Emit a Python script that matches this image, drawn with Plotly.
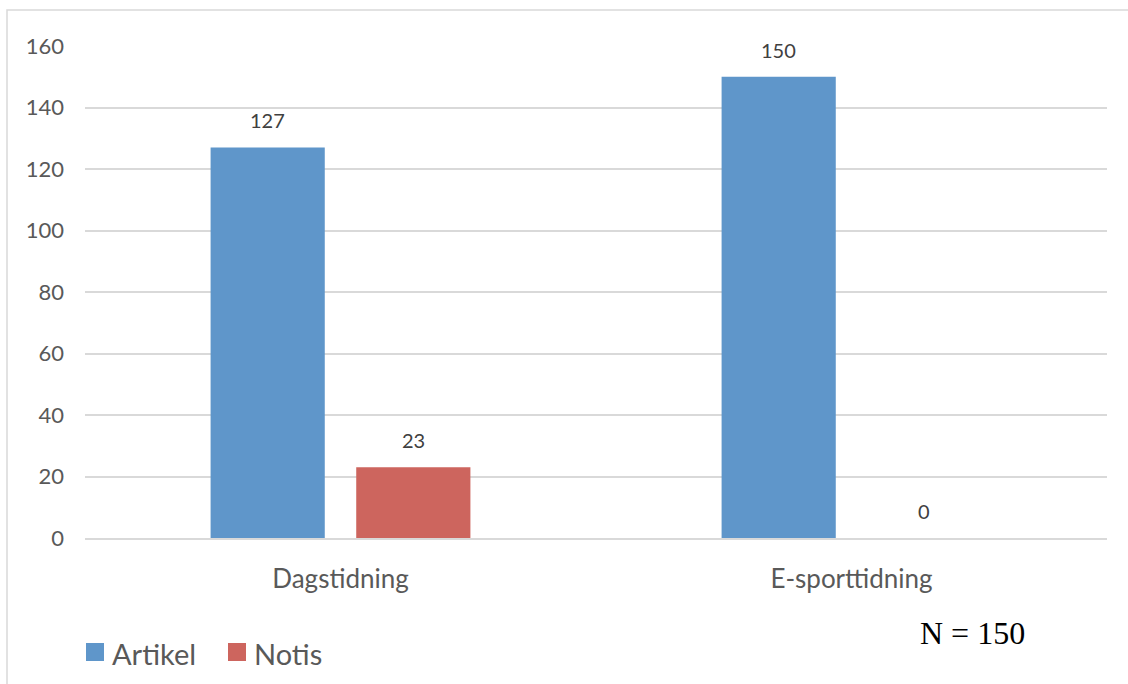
import plotly.graph_objects as go

categories = ["Dagstidning", "E-sporttidning"]
artikel = [127, 150]
notis = [23, 0]
series_names = ["Artikel", "Notis"]
y_ticks = [0, 20, 40, 60, 80, 100, 120, 140, 160]

W, H = 1128, 684
ML, MR, MT, MB = 85, 21, 46, 146
BARGAP = 0.43
GROUPGAP = 0.216

colors = ["#5F96CA", "#CD655E"]
font_family = "Lato, 'Open Sans', sans-serif"
plot_w = W - ML - MR
plot_h = H - MT - MB


def px_x(px):
    return (px - ML) / plot_w


def px_y(py):
    return (H - MB - py) / plot_h


fig = go.Figure()
for name, vals, col in zip(series_names, [artikel, notis], colors):
    fig.add_trace(go.Bar(
        x=categories, y=vals, name=name, showlegend=False,
        marker=dict(color=col, line=dict(width=0)),
    ))

# value labels above each bar, offset to the bar's slot within its group
cat_w = plot_w / len(categories)
slot_w = cat_w * (1 - BARGAP) / 2
for i, vals in enumerate([artikel, notis]):
    shift = (i - 0.5) * slot_w
    for c, v in zip(categories, vals):
        fig.add_annotation(
            x=c, y=v, xref="x", yref="y", text=str(v),
            showarrow=False, xshift=shift, yshift=27,
            font=dict(family=font_family, size=20, color="#404040"),
        )

# legend: square key + series name
legend_x = [86, 228]
for name, col, lx in zip(series_names, colors, legend_x):
    fig.add_shape(
        type="rect", xref="paper", yref="paper",
        x0=px_x(lx), x1=px_x(lx + 18), y0=px_y(661), y1=px_y(643),
        line=dict(width=0), fillcolor=col,
    )
    fig.add_annotation(
        text=name, xref="paper", yref="paper",
        x=px_x(lx + 24), y=px_y(653), xanchor="left", yanchor="middle",
        showarrow=False, font=dict(family=font_family, size=29, color="#595959"),
    )

fig.add_annotation(
    text="N = 150", xref="paper", yref="paper",
    x=px_x(972), y=px_y(633),
    xanchor="center", yanchor="middle", showarrow=False,
    font=dict(family="'Liberation Serif', 'Times New Roman', serif", size=32, color="#000000"),
)

# chart area frame
fig.add_shape(
    type="rect", xref="paper", yref="paper",
    x0=px_x(7), x1=px_x(W + 20), y0=px_y(H + 20), y1=px_y(10),
    line=dict(color="#D9D9D9", width=1.5), fillcolor="rgba(0,0,0,0)", layer="below",
)

fig.update_layout(
    width=W, height=H,
    margin=dict(l=ML, r=MR, t=MT, b=MB, autoexpand=False),
    paper_bgcolor="white", plot_bgcolor="white",
    barmode="group", bargap=BARGAP, bargroupgap=GROUPGAP,
    font=dict(family=font_family, color="#595959"),
    showlegend=False,
)
fig.update_xaxes(
    showgrid=False, showline=True, linecolor="#D9D9D9", linewidth=1.5,
    ticks="", tickfont=dict(size=26, color="#595959"), ticklabelstandoff=17,
    automargin=False,
)
fig.update_yaxes(
    range=[0, 160], tickvals=y_ticks, showgrid=True, gridcolor="#D9D9D9", gridwidth=1.5,
    zeroline=False, showline=False, ticks="",
    tickfont=dict(size=22, color="#595959"), ticklabelstandoff=20,
    automargin=False,
)

fig.write_html("out.html")
